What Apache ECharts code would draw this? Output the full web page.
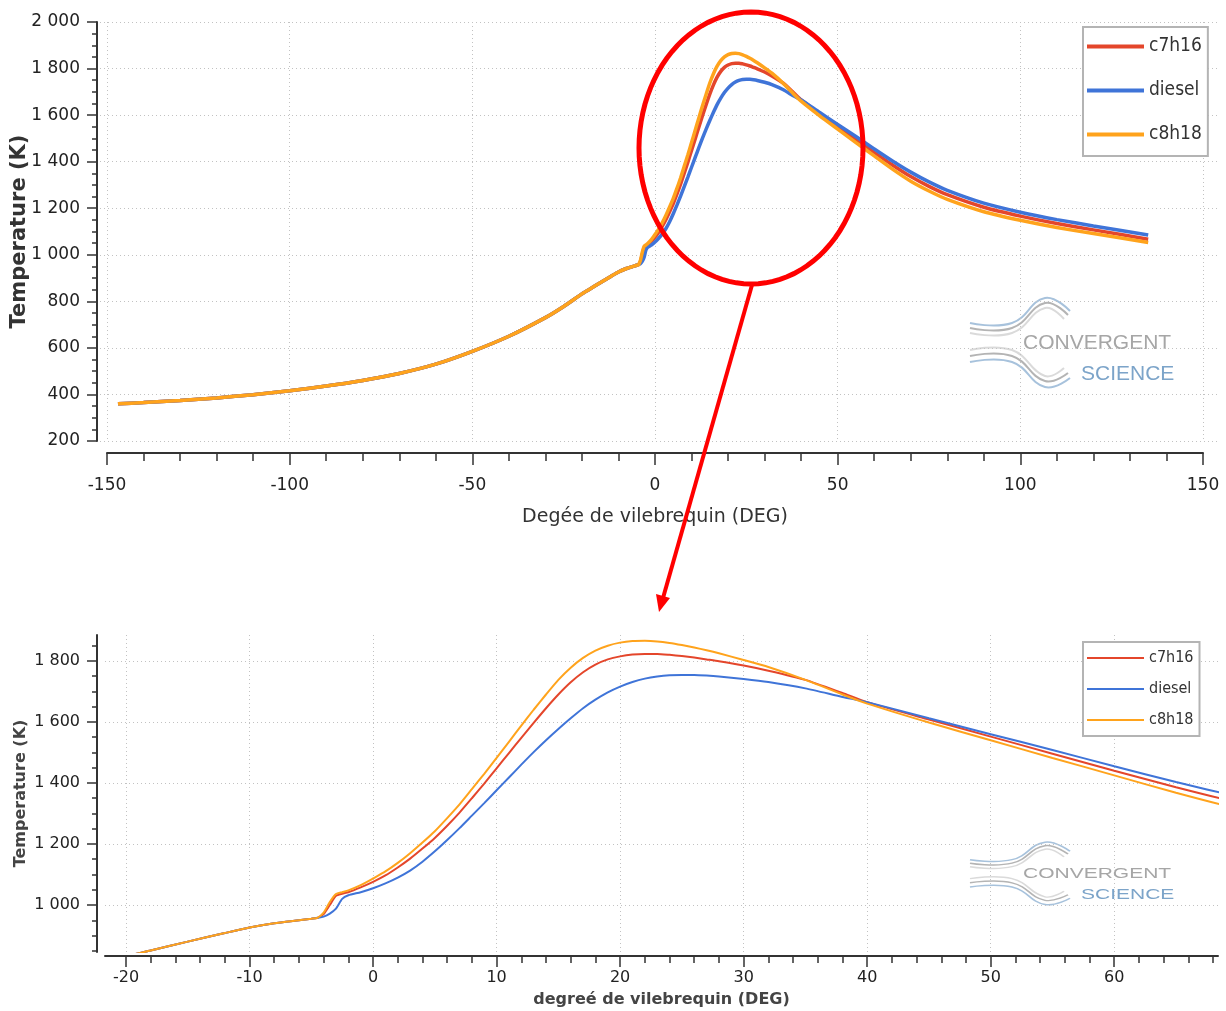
<!DOCTYPE html>
<html>
<head>
<meta charset="utf-8">
<title>Temperature vs crank angle</title>
<script src="https://cdn.jsdelivr.net/npm/echarts@6.0.0/dist/echarts.min.js"></script>
<style>
  html, body { margin: 0; padding: 0; background: #fff; }
  #chart { width: 1226px; height: 1011px; }
</style>
</head>
<body>
<div id="chart"></div>
<script>
// crank angle (deg) - compression part is common to all fuels
const compressionAngle = [-147, -140, -130, -120, -110, -100, -90, -80, -70, -60, -50, -40, -30, -25, -20, -18, -15, -12, -10, -8, -6, -5, -4.5];
const compressionT = [360, 365, 374, 385, 399, 416, 436, 460, 490, 530, 585, 650, 730, 778, 832, 851, 880, 908, 926, 940, 950, 955, 958];

const combustionAngle = [-4, -3.5, -3, -2.5, -2, -1,
  0, 1, 2, 3, 4, 5, 6, 7, 8, 9, 10, 11, 12, 13, 14, 15, 16, 17, 18, 19, 20, 21, 22, 23, 24, 25, 26, 27, 28,
  30, 32, 35, 38, 40, 45, 50, 55, 60, 65, 70, 75, 80, 90, 100, 110, 120, 135];

const c7h16Tail = [970, 1000, 1030, 1037, 1042, 1058,
  1076, 1097, 1123, 1152, 1185, 1220, 1260, 1303, 1350, 1398, 1448, 1498, 1548, 1597, 1645, 1690, 1730, 1763, 1788, 1805, 1815, 1821, 1823, 1823, 1820, 1816, 1811, 1805, 1799,
  1785, 1768, 1738, 1695, 1665, 1608, 1552, 1496, 1440, 1386, 1336, 1294, 1258, 1204, 1166, 1134, 1107, 1067];
const dieselTail = [962, 972, 988, 1020, 1032, 1042,
  1055, 1071, 1090, 1113, 1142, 1176, 1213, 1252, 1293, 1334, 1376, 1418, 1460, 1501, 1540, 1577, 1612, 1645, 1673, 1697, 1716, 1731, 1742, 1749, 1753, 1754, 1754, 1752, 1749,
  1741, 1731, 1710, 1682, 1665, 1612, 1560, 1508, 1455, 1403, 1355, 1313, 1277, 1222, 1183, 1151, 1124, 1085];
const c8h18Tail = [975, 1010, 1036, 1042, 1048, 1065,
  1087, 1110, 1138, 1170, 1205, 1242, 1285, 1330, 1380, 1430, 1482, 1535, 1588, 1640, 1690, 1738, 1778, 1810, 1834, 1850, 1860, 1865, 1866, 1864, 1859, 1852, 1844, 1835, 1825,
  1803, 1780, 1738, 1690, 1660, 1598, 1540, 1482, 1425, 1368, 1316, 1274, 1238, 1185, 1148, 1117, 1091, 1053];

const seriesNames = ['c7h16', 'diesel', 'c8h18'];
const seriesColors = ['#e4462b', '#3f74d8', '#ffa31c'];

// tick positions of the zoomed chart
const zoomXTicks = [-20, -10, 0, 10, 20, 30, 40, 50, 60];
const zoomYTicks = [1000, 1200, 1400, 1600, 1800];

const crankAngle = compressionAngle.concat(combustionAngle);
const temps = [c7h16Tail, dieselTail, c8h18Tail].map(t => compressionT.concat(t));

const zoomXMinor = [];
for (let v = -20; v <= 68; v += 2) if (zoomXTicks.indexOf(v) < 0) zoomXMinor.push(v);
const zoomYMinor = [];
for (let v = 850; v <= 1850; v += 50) if (zoomYTicks.indexOf(v) < 0) zoomYMinor.push(v);

const FONT = 'DejaVu Sans';
const AXIS = '#333';
const GRIDC = '#c2c2c2';
const fmtK = v => v >= 1000 ? Math.floor(v / 1000) + ' ' + String(v % 1000).padStart(3, '0') : String(v);

let myChart = echarts.init(document.getElementById('chart'));

const series = [];
seriesNames.forEach((name, i) => {
  const pts = crankAngle.map((a, k) => [a, temps[i][k]]);
  series.push({
    name: name, type: 'line', xAxisIndex: 0, yAxisIndex: 0, data: pts,
    showSymbol: false, smooth: 0.2, color: seriesColors[i],
    lineStyle: { width: 3.5, color: seriesColors[i] }
  });
  series.push({
    name: name, type: 'line', xAxisIndex: 1, yAxisIndex: 1, data: pts,
    showSymbol: false, smooth: 0.2, color: seriesColors[i],
    lineStyle: { width: 2, color: seriesColors[i] }
  });
});

// red ellipse around the peak
const ellipsePts = [];
for (let k = 0; k < 96; k++) {
  const t = k / 96 * Math.PI * 2;
  ellipsePts.push([751 + 112 * Math.cos(t), 148 + 136 * Math.sin(t)]);
}

function logo(cy, sy) {
  const curve = (pts, color) => ({
    type: 'polyline', shape: { points: pts, smooth: 0.45 },
    style: { stroke: color, lineWidth: 2, fill: null }
  });
  return {
    type: 'group', x: 0, y: cy, scaleY: sy, z: 1, silent: true,
    children: [
      curve([[970, -19], [1012, -19], [1045, -44], [1070, -31]], '#a7c2dc'),
      curve([[970, -14], [1012, -14], [1045, -39], [1068, -27]], '#b4b4b4'),
      curve([[970, -9], [1012, -9], [1045, -34], [1064, -23]], '#dadada'),
      curve([[970, 8], [1012, 8], [1045, 34], [1064, 26]], '#dadada'),
      curve([[970, 14], [1012, 14], [1045, 39], [1068, 31]], '#b4b4b4'),
      curve([[970, 20], [1012, 20], [1045, 45], [1070, 36]], '#a7c2dc'),
      { type: 'text', x: 1023, y: 1, style: { text: 'CONVERGENT', fill: '#a6a6a6', font: '21px "Liberation Sans"', align: 'left', verticalAlign: 'middle', textAlign: 'left', textVerticalAlign: 'middle' } },
      { type: 'text', x: 1081, y: 32, style: { text: 'SCIENCE', fill: '#7ca4c9', font: '21px "Liberation Sans"', align: 'left', verticalAlign: 'middle', textAlign: 'left', textVerticalAlign: 'middle' } }
    ]
  };
}

myChart.setOption({
  animation: false,
  backgroundColor: '#fff',
  textStyle: { fontFamily: FONT },
  grid: [
    { left: 107, right: 23, top: 22, bottom: 570, outerBoundsMode: 'none' },
    { left: 105, right: 8, top: 635, bottom: 59, outerBoundsMode: 'none' },
    { left: 100, right: 8, top: 22, bottom: 570, outerBoundsMode: 'none' }
  ],
  legend: [
    {
      data: seriesNames, orient: 'vertical', left: 1083, top: 27,
      icon: 'rect', itemWidth: 57, itemHeight: 4, itemGap: 25,
      padding: [10, 6, 12, 4], borderColor: '#b4b4b4', borderWidth: 2, backgroundColor: '#fff',
      textStyle: { fontSize: 19, fontFamily: 'DejaVu Sans Condensed', color: '#333' }
    },
    {
      data: seriesNames, orient: 'vertical', left: 1083, top: 642,
      icon: 'rect', itemWidth: 57, itemHeight: 2, itemGap: 15,
      padding: [8, 6, 8, 4], borderColor: '#b4b4b4', borderWidth: 2, backgroundColor: '#fff',
      textStyle: { fontSize: 16, fontFamily: 'DejaVu Sans Condensed', color: '#333' }
    }
  ],
  xAxis: [
    {
      gridIndex: 0, type: 'value', position: 'bottom', min: -150, max: 150, interval: 50, offset: 12,
      axisLine: { onZero: false, lineStyle: { color: AXIS, width: 2 } },
      axisTick: { length: 12, lineStyle: { color: AXIS, width: 1.5 } },
      minorTick: { show: true, splitNumber: 5, length: 8, lineStyle: { color: AXIS, width: 1.5 } },
      axisLabel: { fontSize: 17, color: '#222', margin: 24, fontFamily: FONT },
      splitLine: { show: true, lineStyle: { color: GRIDC, type: [1, 3] } },
      name: 'Degée de vilebrequin (DEG)', nameLocation: 'middle', nameGap: 55, nameMoveOverlap: false,
      nameTextStyle: { fontSize: 19, color: '#333', fontFamily: FONT }
    },
    {
      gridIndex: 1, type: 'value', position: 'bottom', min: -21.7, max: 68.4, offset: 4,
      axisLine: { onZero: false, lineStyle: { color: AXIS, width: 2 } },
      axisTick: { customValues: zoomXTicks, length: 11, lineStyle: { color: AXIS, width: 1.5 } },
      axisLabel: { customValues: zoomXTicks, fontSize: 16, color: '#222', margin: 14, fontFamily: FONT },
      splitLine: { show: true, lineStyle: { color: GRIDC, type: [1, 3] } },
      name: 'degreé de vilebrequin (DEG)', nameLocation: 'middle', nameGap: 36, nameMoveOverlap: false,
      nameTextStyle: { fontSize: 16, fontWeight: 'bold', color: '#444', fontFamily: FONT }
    },
    {
      gridIndex: 1, type: 'value', position: 'bottom', min: -21.7, max: 68.4, offset: 4,
      axisLine: { show: false, onZero: false },
      axisTick: { customValues: zoomXMinor, length: 7, lineStyle: { color: AXIS, width: 1.5 } },
      axisLabel: { show: false },
      splitLine: { show: false }
    },
    { gridIndex: 2, type: 'value', min: 0, max: 1, show: false }
  ],
  yAxis: [
    {
      gridIndex: 0, type: 'value', position: 'left', min: 200, max: 2000, interval: 200, offset: 10,
      axisLine: { show: true, onZero: false, lineStyle: { color: AXIS, width: 2 } },
      axisTick: { show: true, length: 10, lineStyle: { color: AXIS, width: 1.5 } },
      minorTick: { show: true, splitNumber: 4, length: 5, lineStyle: { color: AXIS, width: 1.5 } },
      axisLabel: { fontSize: 17, color: '#222', margin: 17, formatter: fmtK, fontFamily: FONT },
      splitLine: { show: false },
      name: 'Temperature (K)', nameLocation: 'middle', nameRotate: 90, nameGap: 67, nameMoveOverlap: false,
      nameTextStyle: { fontSize: 21, fontWeight: 'bold', color: '#333', fontFamily: FONT }
    },
    {
      gridIndex: 1, type: 'value', position: 'left', min: 846, max: 1885, offset: 8,
      axisLine: { show: true, onZero: false, lineStyle: { color: AXIS, width: 2 } },
      axisTick: { show: true, customValues: zoomYTicks, length: 10, lineStyle: { color: AXIS, width: 1.5 } },
      axisLabel: { customValues: zoomYTicks, fontSize: 16, color: '#222', margin: 17, formatter: fmtK, fontFamily: FONT },
      splitLine: { show: true, lineStyle: { color: GRIDC, type: [1, 3] } },
      name: 'Temperature (K)', nameLocation: 'middle', nameRotate: 90, nameGap: 68, nameMoveOverlap: false,
      nameTextStyle: { fontSize: 16, fontWeight: 'bold', color: '#444', fontFamily: FONT }
    },
    {
      gridIndex: 1, type: 'value', position: 'left', min: 846, max: 1885, offset: 8,
      axisLine: { show: false, onZero: false },
      axisTick: { show: true, customValues: zoomYMinor, length: 5, lineStyle: { color: AXIS, width: 1.5 } },
      axisLabel: { show: false },
      splitLine: { show: false }
    },
    {
      gridIndex: 2, type: 'value', min: 200, max: 2000, interval: 200,
      axisLine: { show: false, onZero: false }, axisTick: { show: false }, axisLabel: { show: false },
      splitLine: { show: true, lineStyle: { color: GRIDC, type: [1, 3] } }
    }
  ],
  graphic: [
    logo(342, 1),
    logo(873, 0.7),
    {
      type: 'polygon', z: 100, silent: true,
      shape: { points: ellipsePts },
      style: { fill: null, stroke: '#ff0000', lineWidth: 5 }
    },
    {
      type: 'line', z: 100, silent: true,
      shape: { x1: 752, y1: 285, x2: 663, y2: 598 },
      style: { stroke: '#ff0000', lineWidth: 4 }
    },
    {
      type: 'polygon', z: 100, silent: true,
      shape: { points: [[659, 612], [670, 598], [656, 594]] },
      style: { fill: '#ff0000' }
    }
  ],
  series: series
});
</script>
</body>
</html>
